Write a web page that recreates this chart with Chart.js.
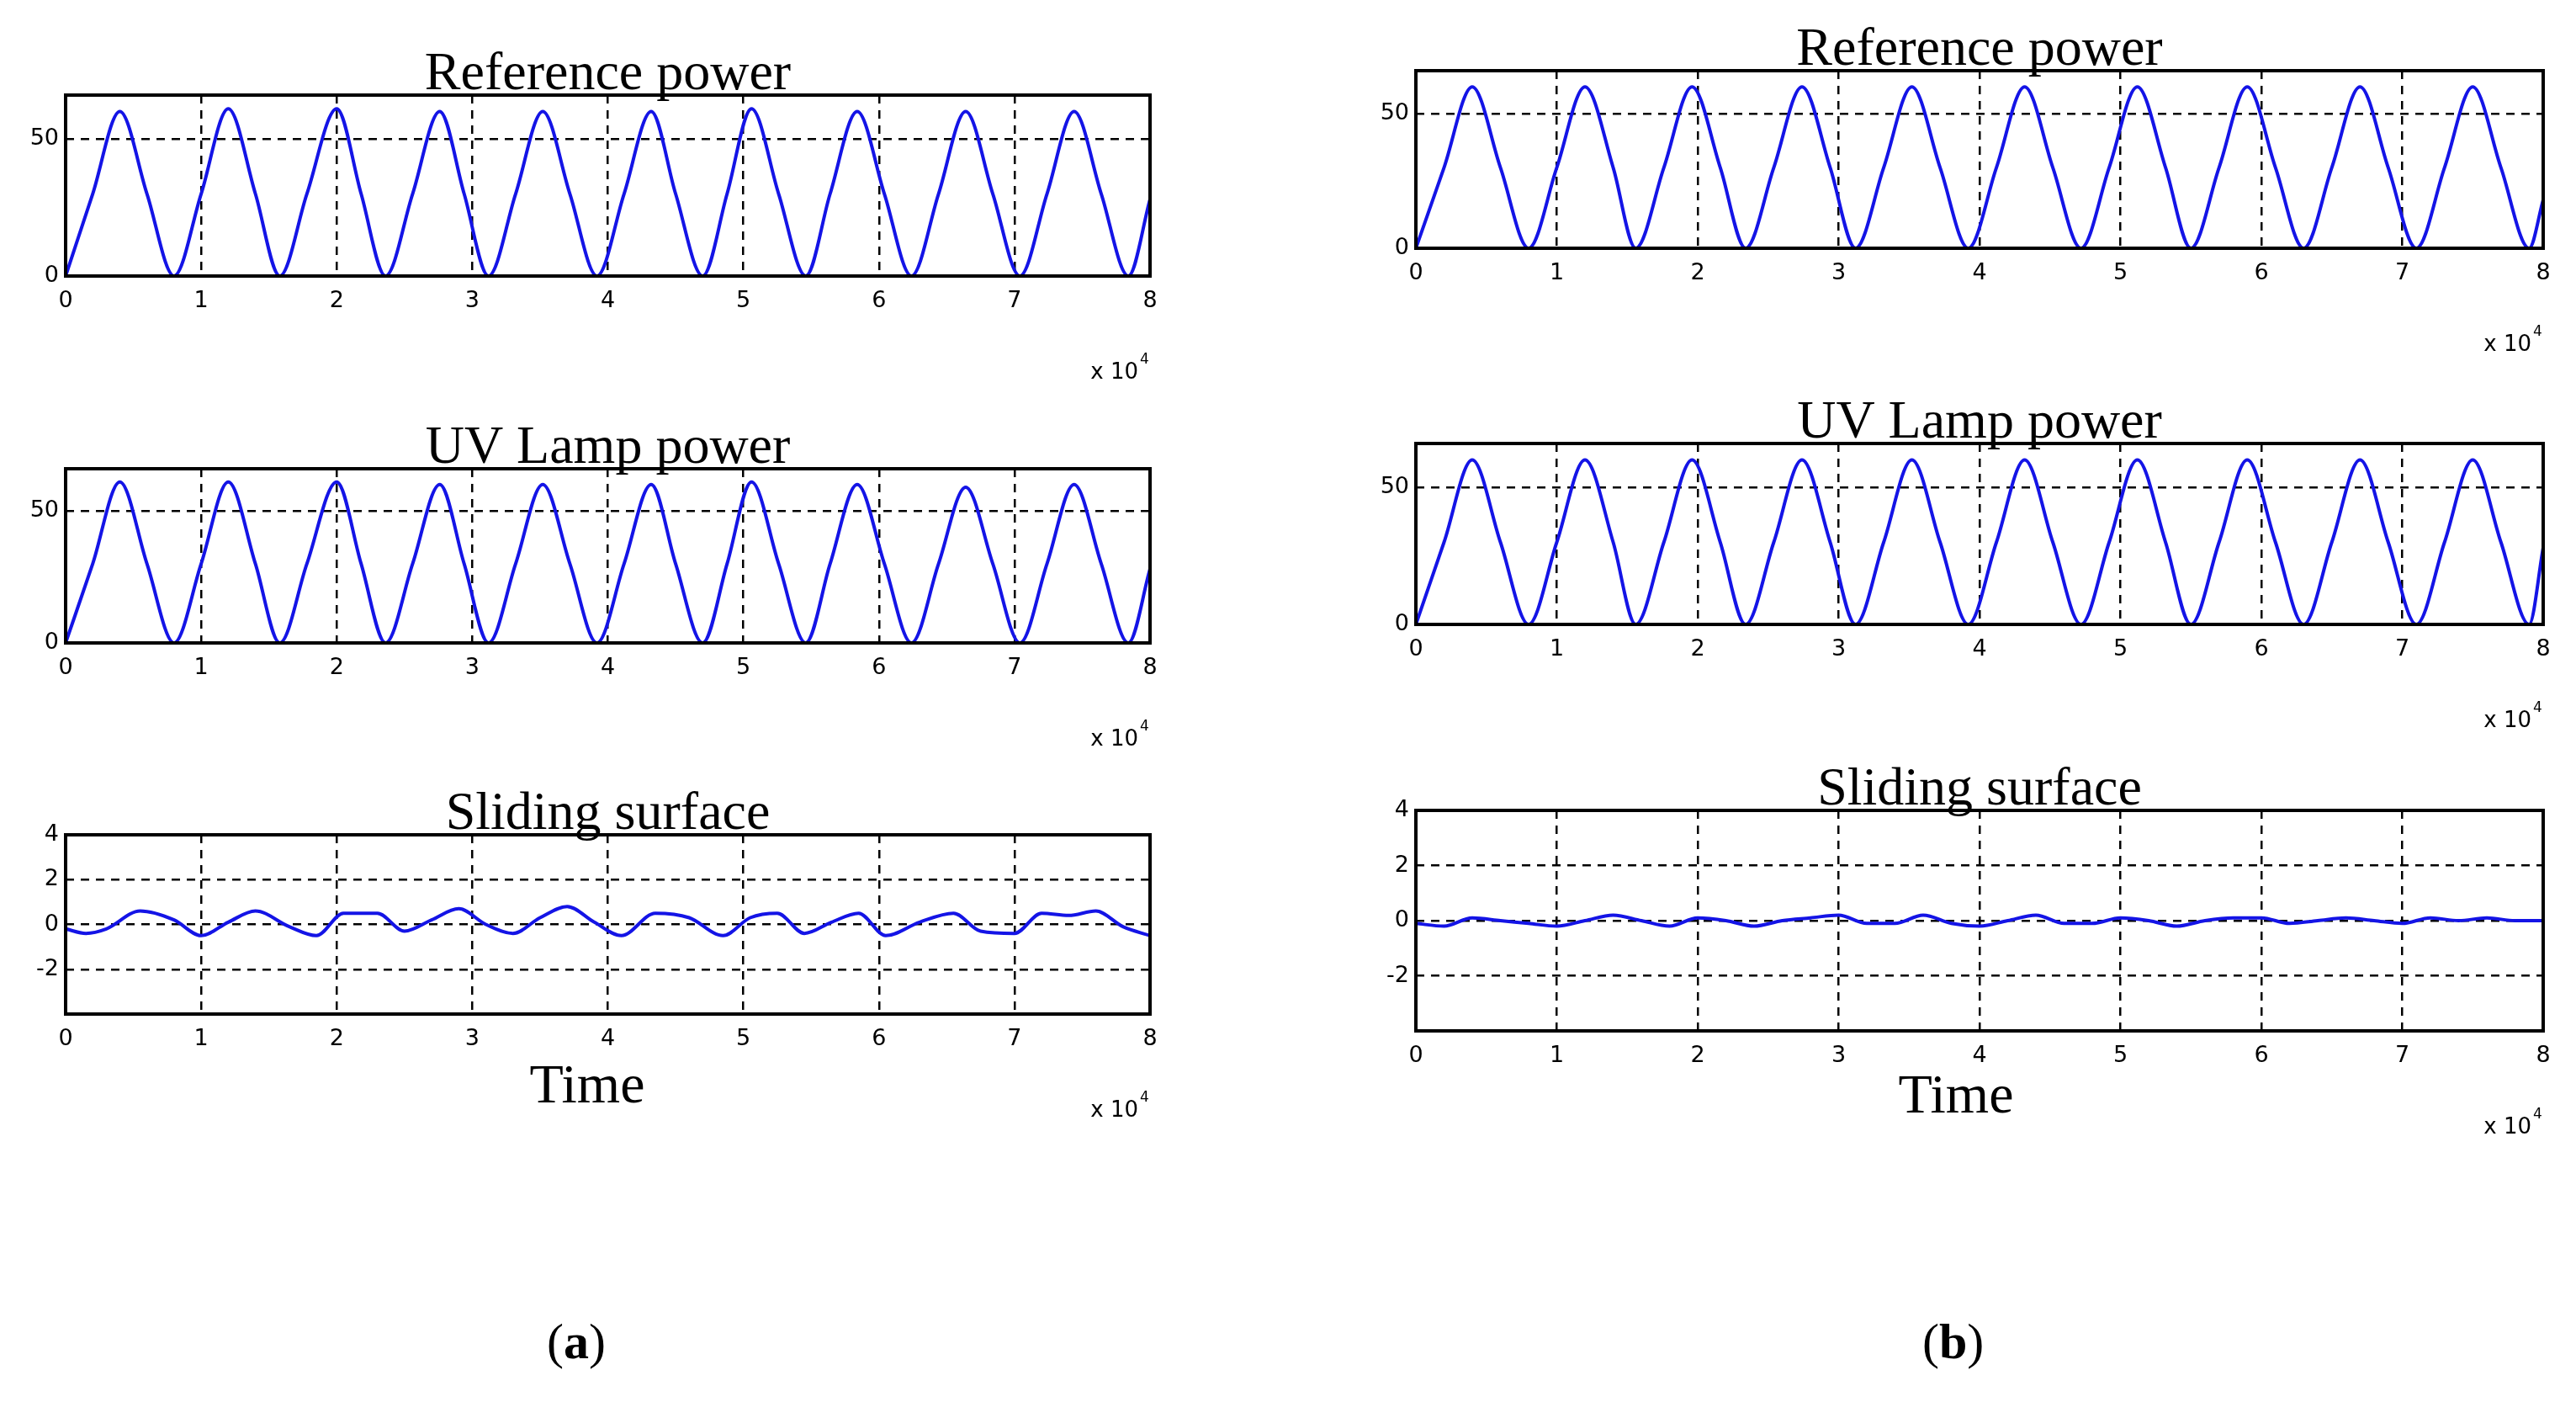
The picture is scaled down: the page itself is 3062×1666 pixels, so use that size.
<!DOCTYPE html>
<html><head><meta charset="utf-8">
<script src="https://cdn.jsdelivr.net/npm/chart.js@4.4.0/dist/chart.umd.min.js"></script>
<style>
body{margin:0;background:#fff;width:3062px;height:1666px;position:relative;overflow:hidden}
.c{position:absolute}
.lab{position:absolute;font-family:"Liberation Serif",serif;font-size:60px;color:#000}
.time{position:absolute;font-family:"Liberation Serif",serif;font-size:66px;color:#000;transform:translateX(-50%)}
</style></head><body>
<div class="lab" style="left:650px;top:1560px">(<b>a</b>)</div>
<div class="lab" style="left:2285px;top:1560px">(<b>b</b>)</div>
<div class="time" style="left:698px;top:1250px">Time</div>
<div class="time" style="left:2325px;top:1262px">Time</div>
<script>
// time axis (x 10^4)
const timeRefA = [0,0.2,0.4,0.6,0.8,1.0,1.2,1.4,1.58,1.78,2.0,2.18,2.36,2.56,2.76,2.94,3.12,3.32,3.52,3.72,3.92,4.12,4.32,4.5,4.7,4.88,5.06,5.26,5.46,5.64,5.84,6.04,6.24,6.44,6.64,6.84,7.04,7.24,7.44,7.64,7.84,8.0];
const refPowerA = [0,30,60,30,0,30,61,30,0,30,61,30,0,30,60,30,0,30,60,30,0,30,60,30,0,30,61,30,0,30,60,30,0,30,60,30,0,30,60,30,0,28];
const uvPowerA  = [0,30,61,30,0,30,61,30,0,30,61,30,0,30,60,30,0,30,60,30,0,30,60,30,0,30,61,30,0,30,60,30,0,30,59,30,0,30,60,30,0,28];
const timeRefB = [0,0.2,0.4,0.6,0.8,1.0,1.2,1.4,1.56,1.76,1.96,2.16,2.34,2.54,2.74,2.94,3.12,3.32,3.52,3.72,3.92,4.12,4.32,4.52,4.72,4.92,5.12,5.32,5.5,5.7,5.9,6.1,6.3,6.5,6.7,6.9,7.1,7.3,7.5,7.7,7.9,8.0];
const refPowerB = [0,30,60,30,0,30,60,30,0,30,60,30,0,30,60,30,0,30,60,30,0,30,60,30,0,30,60,30,0,30,60,30,0,30,60,30,0,30,60,30,0,18];
const uvPowerB  = [0,30,60,30,0,30,60,30,0,30,60,30,0,30,60,30,0,30,60,30,0,30,60,30,0,30,60,30,0,30,60,30,0,30,60,30,0,30,60,30,0,28];
const timeSlideA = [0,0.15,0.3,0.55,0.8,1.0,1.2,1.4,1.65,1.85,2.05,2.3,2.5,2.7,2.9,3.1,3.3,3.5,3.7,3.9,4.1,4.35,4.6,4.85,5.05,5.25,5.45,5.65,5.85,6.05,6.3,6.55,6.75,7.0,7.2,7.4,7.6,7.8,8.0];
const slideA = [-0.2,-0.4,-0.2,0.6,0.2,-0.5,0.1,0.6,-0.1,-0.5,0.5,0.5,-0.3,0.2,0.7,0.0,-0.4,0.3,0.8,0.1,-0.5,0.5,0.3,-0.5,0.3,0.5,-0.4,0.1,0.5,-0.5,0.1,0.5,-0.3,-0.4,0.5,0.4,0.6,-0.1,-0.5];
const timeSlideB = [0,0.2,0.4,0.6,0.8,1.0,1.2,1.4,1.6,1.8,2.0,2.2,2.4,2.6,2.8,3.0,3.2,3.4,3.6,3.8,4.0,4.2,4.4,4.6,4.8,5.0,5.2,5.4,5.6,5.8,6.0,6.2,6.4,6.6,6.8,7.0,7.2,7.4,7.6,7.8,8.0];
const slideB = [-0.1,-0.2,0.1,0.0,-0.1,-0.2,0.0,0.2,0.0,-0.2,0.1,0.0,-0.2,0.0,0.1,0.2,-0.1,-0.1,0.2,-0.1,-0.2,0.0,0.2,-0.1,-0.1,0.1,0.0,-0.2,0.0,0.1,0.1,-0.1,0.0,0.1,0.0,-0.1,0.1,0.0,0.1,0.0,0.0];
const xTicks = [0,1,2,3,4,5,6,7,8];
const powerTicks = [0,50];
const slideTicks = [-2,0,2,4];

const PADL=70, PADT=90, PADR=30, PADB=140;
const blue='#1414e6';
function make(box, title, xs, ys, yMin, yMax, yT){
  const [l,t,r,b]=box;
  const w=r-l+PADL+PADR, h=b-t+PADT+PADB;
  const cv=document.createElement('canvas');
  cv.className='c';cv.style.left=(l-PADL)+'px';cv.style.top=(t-PADT)+'px';
  cv.style.width=w+'px';cv.style.height=h+'px';
  document.body.appendChild(cv);
  const deco={id:'deco',afterDraw(c){
    const a=c.chartArea,x=c.ctx;x.save();
    x.strokeStyle='#000';x.lineWidth=4;x.setLineDash([]);
    x.strokeRect(a.left,a.top,a.right-a.left,a.bottom-a.top);
    x.fillStyle='#000';x.textAlign='center';x.textBaseline='bottom';
    x.font='64px "Liberation Serif", serif';
    x.fillText(title,(a.left+a.right)/2,a.top+8);
    x.textAlign='right';x.textBaseline='alphabetic';
    x.font='26px "DejaVu Sans", sans-serif';
    x.fillText('x 10',a.right-14,a.bottom+122);
    x.font='17px "DejaVu Sans", sans-serif';
    x.textAlign='left';x.fillText('4',a.right-12,a.bottom+104);
    x.restore();}};
  const tickFont={size:27,family:'"DejaVu Sans", sans-serif'};
  new Chart(cv,{type:'line',
    data:{datasets:[{data:xs.map((v,i)=>({x:v,y:ys[i]})),borderColor:blue,borderWidth:4,pointRadius:0,cubicInterpolationMode:'monotone',fill:false}]},
    options:{responsive:false,devicePixelRatio:1,animation:false,
      layout:{padding:{left:0,top:PADT,right:PADR,bottom:0}},
      plugins:{legend:{display:false},tooltip:{enabled:false}},
      scales:{
        x:{type:'linear',min:0,max:8,afterBuildTicks:s=>{s.ticks=xTicks.map(v=>({value:v}))},
          afterFit:s=>{s.height=PADB},
          border:{display:false,dash:[10,8]},
          grid:{color:c=>(c.tick.value>0&&c.tick.value<8)?'#000':'rgba(0,0,0,0)',lineWidth:2.5,drawTicks:false},
          ticks:{color:'#000',font:tickFont,padding:14,maxRotation:0}},
        y:{min:yMin,max:yMax,afterBuildTicks:s=>{s.ticks=yT.map(v=>({value:v}))},
          afterFit:s=>{s.width=PADL},
          border:{display:false,dash:[10,8]},
          grid:{color:c=>(c.tick.value>yMin&&c.tick.value<yMax)?'#000':'rgba(0,0,0,0)',lineWidth:2.5,drawTicks:false},
          ticks:{color:'#000',font:tickFont,padding:8}}
      }},
    plugins:[deco]
  });
}
make([78,113,1367,328],'Reference power',timeRefA,refPowerA,0,66,powerTicks);
make([78,557,1367,764],'UV Lamp power',timeRefA,uvPowerA,0,66,powerTicks);
make([78,992,1367,1205],'Sliding surface',timeSlideA,slideA,-4,4,slideTicks);
make([1683,84,3023,295],'Reference power',timeRefB,refPowerB,0,66,powerTicks);
make([1683,527,3023,742],'UV Lamp power',timeRefB,uvPowerB,0,66,powerTicks);
make([1683,963,3023,1225],'Sliding surface',timeSlideB,slideB,-4,4,slideTicks);
</script>
</body></html>
